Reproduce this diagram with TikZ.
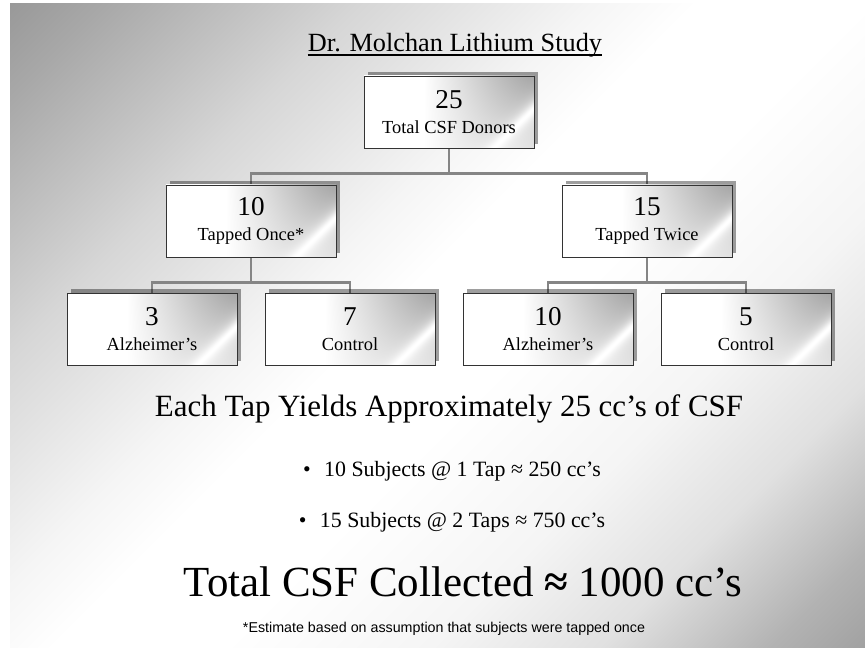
\documentclass[tikz,border=0pt]{standalone}
\usepackage{fontspec}
\setmainfont{Liberation Serif}
\newfontfamily\notefamily{Liberation Sans}
\usepackage{tikz}
\usetikzlibrary{positioning,shadows}
\usepackage{xcolor}

\definecolor{wiregray}{gray}{0.52}

\pgfdeclarehorizontalshading{slidewash}{100bp}{color(0bp)=(black!56); color(7bp)=(black!50); color(19bp)=(black!34); color(31bp)=(black!16); color(42bp)=(black!4); color(47bp)=(white); color(55bp)=(white); color(65bp)=(black!4); color(73bp)=(black!12); color(81bp)=(black!30); color(89bp)=(black!42); color(95bp)=(black!48); color(100bp)=(black!50)}

\pgfdeclarefunctionalshading{boxsheen}{\pgfpoint{0bp}{0bp}}{\pgfpoint{100bp}{100bp}}{}{
  25 sub 50 div exch 25 sub 50 div
  1 index 1 index 0.76 sub 0.917 mul exch 0.398 mul sub
  exch 0.35 sub 0.55 div dup abs add 2 div
  1 index 0.05 div dup mul 1 add 1 exch div 1 exch sub mul
  exch dup abs 0.03 add div 0.5 mul 0.5 add 0.45 mul 1 exch sub mul 0.33 mul
  exch 0.45 mul 0.55 add mul
  1 exch sub dup dup
}

\pgfdeclarelayer{backdrop}
\pgfdeclarelayer{wires}
\pgfsetlayers{backdrop,wires,main}

\newcommand{\titlefont}{\fontsize{19.7pt}{24pt}\selectfont}
\newcommand{\numfont}{\fontsize{20.4pt}{22pt}\selectfont}
\newcommand{\labfont}{\fontsize{13.8pt}{18.75pt}\selectfont}
\newcommand{\yieldfont}{\fontsize{23.2pt}{26pt}\selectfont}
\newcommand{\bulletfont}{\fontsize{16.4pt}{19pt}\selectfont}
\newcommand{\totalfont}{\fontsize{32.2pt}{36pt}\selectfont}
\newcommand{\notefont}{\notefamily\fontsize{10.7pt}{13pt}\selectfont}

\begin{document}
\begin{tikzpicture}[x=0.75pt, y=-0.75pt,
  every node/.style={align=center},
  tapbox/.style={draw=black!80, line width=0.6pt, shading=boxsheen,
    minimum width=127.5pt, minimum height=54pt, inner sep=0pt, font=\labfont,
    drop shadow={shadow xshift=3pt, shadow yshift=3pt, fill=black, opacity=0.38}},
  wire/.style={draw=wiregray, line width=1.8pt},
  slidetext/.style={anchor=base, inner sep=0pt}]
  \useasboundingbox (0,0) rectangle (865,648);
  \begin{pgfonlayer}{backdrop}
    \fill[white] (0,0) rectangle (865,648);
    \shade[shading=slidewash, shading angle=-45] (10,4) rectangle (865,648);
  \end{pgfonlayer}

  \node[slidetext, font=\titlefont] (title) at (455,52) {Dr. Molchan Lithium Study};
  \draw[line width=1.1pt] ([yshift=-2.3pt]title.base west) -- ([yshift=-2.3pt]title.base east);

  \node[tapbox] (donors) at (449,112) {{\numfont 25}\\Total CSF Donors};
  \node[tapbox] (once) at (251,221) {{\numfont 10}\\Tapped Once*};
  \node[tapbox] (twice) at (647,221) {{\numfont 15}\\Tapped Twice};
  \node[tapbox] (onceAD) at (152,329.5) {{\numfont 3}\\Alzheimer’s};
  \node[tapbox] (onceCtl) at (350,329.5) {{\numfont 7}\\Control};
  \node[tapbox] (twiceAD) at (548,329.5) {{\numfont 10}\\Alzheimer’s};
  \node[tapbox] (twiceCtl) at (746,329.5) {{\numfont 5}\\Control};

  \begin{pgfonlayer}{wires}
    \draw[wire] (donors.south) -- ++(0,25) -| (once.north);
    \draw[wire] (donors.south) -- ++(0,25) -| (twice.north);
    \draw[wire] (once.south) -- ++(0,25) -| (onceAD.north);
    \draw[wire] (once.south) -- ++(0,25) -| (onceCtl.north);
    \draw[wire] (twice.south) -- ++(0,25) -| (twiceAD.north);
    \draw[wire] (twice.south) -- ++(0,25) -| (twiceCtl.north);
  \end{pgfonlayer}

  \node[slidetext, font=\yieldfont] (yield) at (449,417) {Each Tap Yields Approximately 25 cc’s of CSF};
  \node[slidetext, font=\bulletfont] (onceEst) at (452,477) {•\hspace{10pt}10 Subjects @ 1 Tap ≈ 250 cc’s};
  \node[slidetext, font=\bulletfont] (twiceEst) at (452,528) {•\hspace{10pt}15 Subjects @ 2 Taps ≈ 750 cc’s};
  \node[slidetext, font=\totalfont] (total) at (463,597) {Total CSF Collected \textbf{≈} 1000 cc’s};
  \node[slidetext, font=\notefont] (note) at (444,633) {*Estimate based on assumption that subjects were tapped once};
\end{tikzpicture}
\end{document}
